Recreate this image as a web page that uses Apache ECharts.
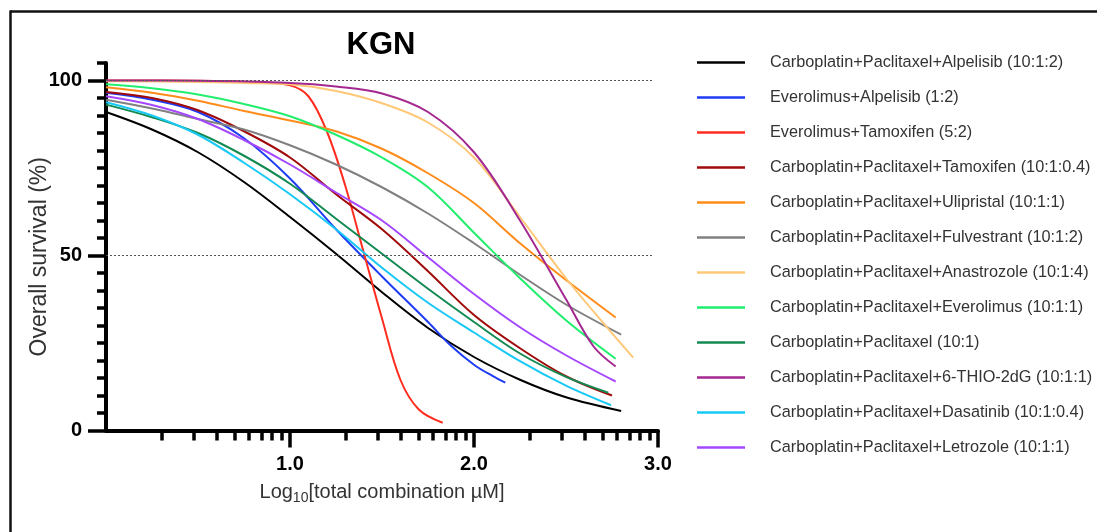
<!DOCTYPE html>
<html>
<head>
<meta charset="utf-8">
<script src="https://cdn.jsdelivr.net/npm/echarts@6/dist/echarts.min.js"></script>
<style>
html,body{margin:0;padding:0;background:#fff;}
#chart{width:1097px;height:532px;}
</style>
</head>
<body>
<div id="chart"></div>
<script>
// ---- Data (x = log10 of total combination µM, y = overall survival %) ----
const names = [
  'Carboplatin+Paclitaxel+Alpelisib (10:1:2)',
  'Everolimus+Alpelisib (1:2)',
  'Everolimus+Tamoxifen (5:2)',
  'Carboplatin+Paclitaxel+Tamoxifen (10:1:0.4)',
  'Carboplatin+Paclitaxel+Ulipristal (10:1:1)',
  'Carboplatin+Paclitaxel+Fulvestrant (10:1:2)',
  'Carboplatin+Paclitaxel+Anastrozole (10:1:4)',
  'Carboplatin+Paclitaxel+Everolimus (10:1:1)',
  'Carboplatin+Paclitaxel (10:1)',
  'Carboplatin+Paclitaxel+6-THIO-2dG (10:1:1)',
  'Carboplatin+Paclitaxel+Dasatinib (10:1:0.4)',
  'Carboplatin+Paclitaxel+Letrozole (10:1:1)'
];
const colors = ['#000000','#1f3cf5','#ff2d1f','#a00a0a','#ff8c1a','#808080','#ffc878','#22ee6e','#138a52','#a3288f','#18c8f5','#a447ff'];

const cpAlpelisib   = [[0,91],[0.25,86],[0.5,79.5],[0.75,71],[1,61],[1.25,50.5],[1.5,39.5],[1.75,29.3],[2,21],[2.25,14.5],[2.5,9.5],[2.8,5.6]];
const evAlpelisib   = [[0,96.5],[0.25,94.5],[0.5,91],[0.75,83.5],[1,72],[1.25,57.5],[1.5,44],[1.75,31],[1.875,24.2],[2,18.8],[2.1,15.6],[2.17,13.7]];
const evTamoxifen   = [[0,100],[0.5,99.9],[0.8,99.5],[1,98.6],[1.1,95.5],[1.2,85.5],[1.3,70],[1.4,51],[1.5,32],[1.6,14.5],[1.7,6],[1.83,2.2]];
const cpTamoxifen   = [[0,96.7],[0.25,95],[0.5,91.5],[0.75,85.5],[1,78],[1.25,67.5],[1.5,57.5],[1.75,45.5],[2,33],[2.25,23.5],[2.5,15.5],[2.75,10]];
const cpUlipristal  = [[0,98.1],[0.25,96.5],[0.5,94.2],[0.75,91.3],[1,88.6],[1.25,85.5],[1.5,80.5],[1.75,73.5],[2,65],[2.25,53.5],[2.5,43],[2.77,32.3]];
const cpFulvestrant = [[0,94.5],[0.25,92],[0.5,89],[0.75,86],[1,81.5],[1.25,76],[1.5,69.5],[1.75,62],[2,53.5],[2.25,44.5],[2.5,36],[2.8,27.4]];
const cpAnastrozole = [[0,99.8],[0.5,99.6],[0.75,99.3],[1,98.9],[1.25,97],[1.5,93.5],[1.75,88],[2,78],[2.25,61],[2.5,43.5],[2.75,27.8],[2.865,20.8]];
const cpEverolimus  = [[0,98.9],[0.25,97.8],[0.5,96],[0.75,93.3],[1,89.8],[1.25,84.5],[1.5,78],[1.75,69.5],[2,56.5],[2.25,43.5],[2.5,31.5],[2.77,20.5]];
const cpOnly        = [[0,93.1],[0.25,89.5],[0.5,85],[0.75,78.5],[1,70.5],[1.25,60.5],[1.5,50.5],[1.75,40.5],[2,31],[2.25,22],[2.5,15.3],[2.73,10.8]];
const cpThio        = [[0,100],[0.5,99.9],[1,99.3],[1.25,98.3],[1.5,96.3],[1.75,91],[2,79.5],[2.25,60],[2.5,37.5],[2.65,24],[2.77,18.3]];
const cpDasatinib   = [[0,93.8],[0.25,90],[0.5,84.5],[0.75,76.5],[1,67.5],[1.25,57.5],[1.5,46.5],[1.75,36.5],[2,28],[2.25,19.8],[2.5,12.8],[2.745,7.2]];
const cpLetrozole   = [[0,95.5],[0.25,93],[0.5,89],[0.75,83],[1,76],[1.25,68],[1.5,60],[1.75,49.5],[2,39],[2.25,29.5],[2.5,21.5],[2.77,14]];

const seriesData = [cpAlpelisib, evAlpelisib, evTamoxifen, cpTamoxifen, cpUlipristal, cpFulvestrant,
                    cpAnastrozole, cpEverolimus, cpOnly, cpThio, cpDasatinib, cpLetrozole];

// ---- Axis ticks ----
const xMajorTicks = [1, 2, 3];
const xDecades = [0, 1, 2];
const xMinorMultipliers = [2, 3, 4, 5, 6, 7, 8, 9];
const yMajorTicks = [0, 50, 100];
const refLevels = [50, 100];
const refLineEnd = 2.97;

const xMinorTicks = [];
xDecades.forEach(d => xMinorMultipliers.forEach(k => xMinorTicks.push(d + Math.log10(k))));

const FONT = '"Liberation Sans", Arial, sans-serif';

const chart = echarts.init(document.getElementById('chart'), null, {renderer: 'canvas'});

const series = seriesData.map((d, i) => ({
  name: names[i],
  type: 'line',
  data: d,
  smooth: 0.35,
  symbol: 'none',
  xAxisIndex: 0,
  yAxisIndex: 0,
  lineStyle: {color: colors[i], width: 2},
  itemStyle: {color: colors[i]},
  z: 3,
  silent: true
}));

series.push({
  type: 'line',
  data: [],
  silent: true,
  markLine: {
    silent: true,
    symbol: 'none',
    label: {show: false},
    lineStyle: {color: '#555', type: [2, 2], width: 1},
    data: refLevels.map(v => [{coord: [0, v]}, {coord: [refLineEnd, v]}])
  },
  z: 1
});

chart.setOption({
  backgroundColor: '#fff',
  animation: false,
  title: {
    text: 'KGN',
    left: 376,
    top: 25,
    textAlign: 'center',
    textStyle: {fontFamily: FONT, fontSize: 31, fontWeight: 'bold', color: '#000'}
  },
  legend: {
    orient: 'vertical',
    left: 697,
    top: 54.5,
    padding: 0,
    icon: 'rect',
    itemWidth: 48,
    itemHeight: 2.5,
    itemGap: 19,
    data: names,
    textStyle: {fontFamily: FONT, fontSize: 16.3, lineHeight: 15, color: '#333', padding: [0, 0, 0, 20]}
  },
  grid: {left: 106, right: 439, top: 63, bottom: 101.5, containLabel: false},
  xAxis: [{
    type: 'value', min: 0, max: 3, interval: 1,
    name: 'Log{sub|10}[total combination µM]',
    nameLocation: 'middle', nameGap: 49,
    nameTextStyle: {
      fontFamily: FONT, fontSize: 20, color: '#333',
      rich: {sub: {fontFamily: FONT, fontSize: 14, color: '#333', padding: [12, 0, 0, 0]}}
    },
    axisLine: {show: true, lineStyle: {color: '#000', width: 4}},
    axisTick: {show: true, customValues: xMajorTicks, length: 17, lineStyle: {color: '#000', width: 3.5}},
    axisLabel: {customValues: xMajorTicks, formatter: v => v.toFixed(1), margin: 24,
                fontFamily: FONT, fontSize: 20, fontWeight: 'bold', color: '#000'},
    splitLine: {show: false}
  }, {
    type: 'value', min: 0, max: 3, position: 'bottom',
    axisLine: {show: false},
    axisTick: {show: true, customValues: xMinorTicks, length: 10, lineStyle: {color: '#000', width: 3.5}},
    axisLabel: {show: false},
    splitLine: {show: false}
  }],
  yAxis: [{
    type: 'value', min: 0, max: 105, interval: 5,
    name: 'Overall survival (%)',
    nameLocation: 'middle', nameGap: 55, nameMoveOverlap: false,
    nameTextStyle: {fontFamily: FONT, fontSize: 23, color: '#333', padding: [0, 20, 0, 0]},
    axisLine: {show: true, lineStyle: {color: '#000', width: 4}},
    axisTick: {show: true, length: 9, lineStyle: {color: '#000', width: 3.5}},
    axisLabel: {customValues: yMajorTicks, margin: 24,
                fontFamily: FONT, fontSize: 20, fontWeight: 'bold', color: '#000'},
    splitLine: {show: false}
  }, {
    type: 'value', min: 0, max: 105, position: 'left',
    axisLine: {show: false},
    axisTick: {show: true, customValues: yMajorTicks, length: 18, lineStyle: {color: '#000', width: 3.5}},
    axisLabel: {show: false},
    splitLine: {show: false}
  }],
  graphic: [
    {type: 'line', shape: {x1: 10, y1: 11.5, x2: 1097, y2: 11.5}, style: {stroke: '#111', lineWidth: 2.5}, silent: true},
    {type: 'line', shape: {x1: 10.5, y1: 10.5, x2: 10.5, y2: 532}, style: {stroke: '#111', lineWidth: 2.5}, silent: true}
  ],
  series: series
});
</script>
</body>
</html>
